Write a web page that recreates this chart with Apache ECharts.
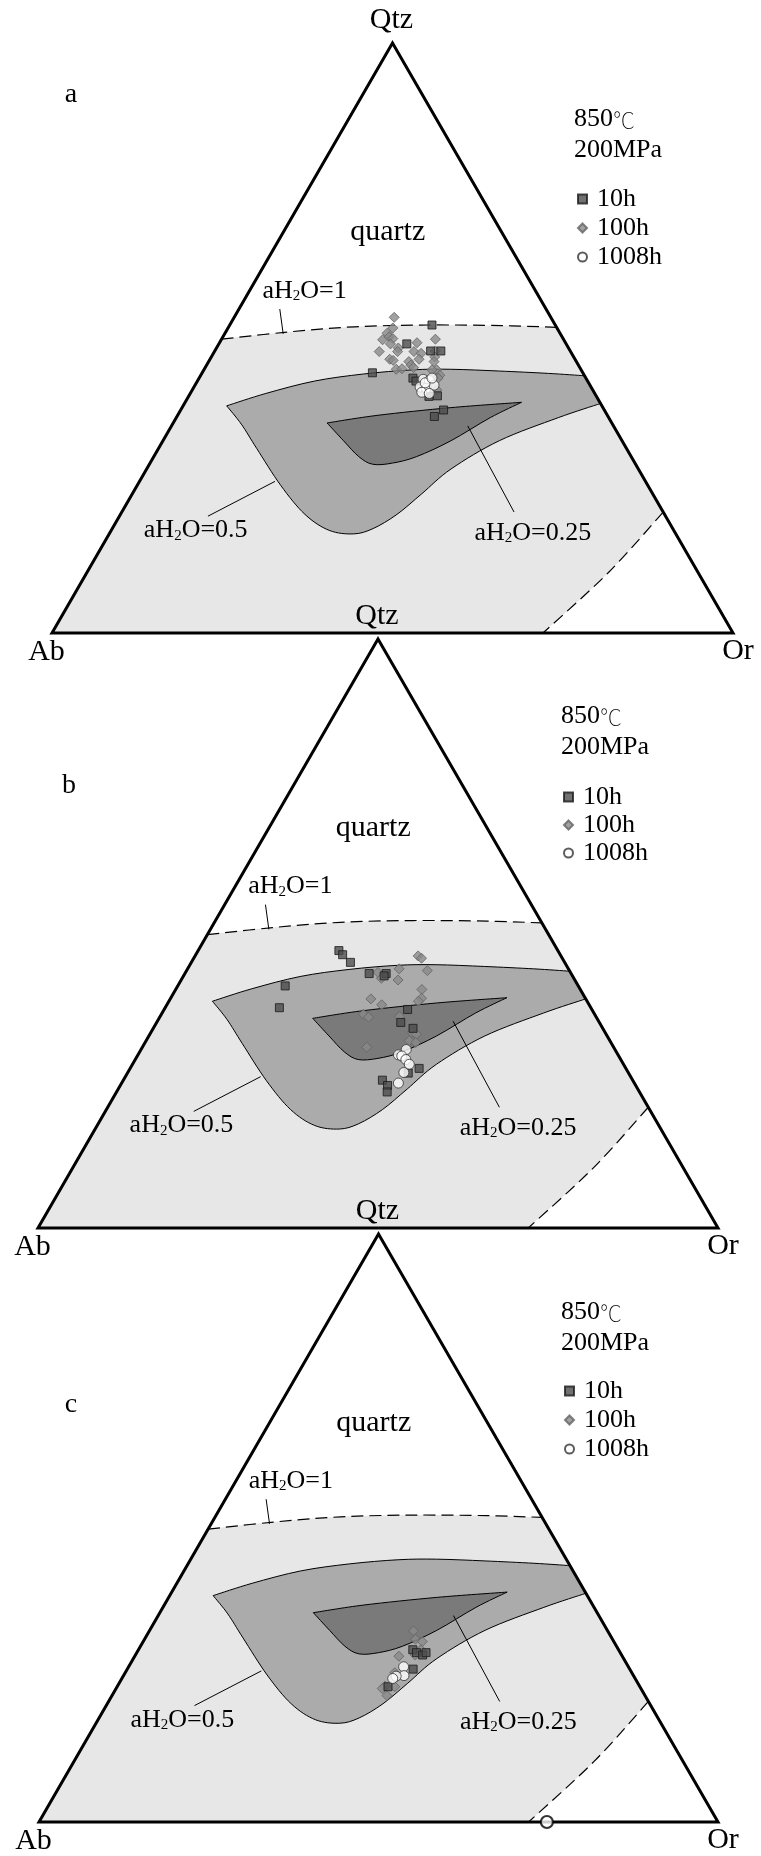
<!DOCTYPE html>
<html>
<head>
<meta charset="utf-8">
<script src="https://cdn.jsdelivr.net/npm/echarts@6/dist/echarts.min.js"></script>
<style>
  html, body { margin: 0; padding: 0; background: #fff; }
  #chart { width: 761px; height: 1856px; }
</style>
</head>
<body>
<div id="chart"></div>
<script>
// All compositions are ternary [Qz, Or] in wt%; Ab = 100 - Qz - Or.
const vertexNames = ['Qtz', 'Ab', 'Or'];
const panelLetters = ['a', 'b', 'c'];
const temperature = '850';
const pressure = '200MPa';
const durations = ['10h', '100h', '1008h'];

// Phase boundaries of the Qz-Ab-Or system
const cotecticH2O1 = [[49.8, 0], [51.0, 9.0], [51.9, 18.5], [52.2, 29.0], [52.1, 40.0], [51.8, 48.2]];
const feldsparBoundary = [[20.5, 79.5], [10.3, 76.6], [0, 72.1]];
const field05Upper = [[38.5, 6.4], [40.6, 11.1], [42.7, 17.2], [43.9, 23.8], [44.6, 30.6], [44.7, 36.2], [44.4, 43.5], [44.0, 50.9], [43.6, 56.4]];
const field05Lower = [[38.9, 61.1], [36.5, 56.1], [32.6, 49.4], [27.8, 44.7], [23.6, 42.5], [20.1, 40.6], [17.7, 38.3], [16.8, 35.9], [17.4, 32.0], [20.1, 27.1], [25.0, 21.1], [31.3, 14.4], [35.4, 10.1], [38.5, 6.4]];
const field025Upper = [[35.6, 22.6], [36.9, 29.4], [38.2, 39.5], [39.1, 49.4]];
const field025Lower = [[39.1, 49.4], [36.5, 46.1], [32.6, 42.3], [29.9, 38.6], [28.8, 35.6], [28.6, 32.8], [29.9, 30.1], [32.6, 26.5], [35.6, 22.6]];

// Glass compositions, panel a
const panelA10h = [[52.2, 29.7], [49.0, 27.6], [47.8, 31.7], [47.8, 33.2], [44.1, 25.0], [43.2, 31.4], [42.7, 32.1], [40.1, 35.3], [40.2, 36.5], [37.8, 38.6], [36.7, 37.8]];
const panelA100h = [[53.5, 23.5], [51.7, 24.2], [50.8, 23.8], [49.7, 23.7], [50.2, 24.4], [49.9, 25.1], [49.0, 25.2], [48.3, 26.7], [47.7, 24.2], [47.7, 26.9], [46.4, 26.4], [46.2, 27.0], [44.7, 28.2], [44.8, 29.0], [46.0, 29.4], [45.4, 30.0], [49.2, 29.0], [47.7, 29.3], [47.4, 30.5], [46.4, 30.7], [49.8, 31.4], [47.8, 32.4], [46.8, 32.8], [46.0, 33.1], [44.6, 34.2], [43.7, 35.1], [43.2, 35.1], [44.6, 33.5], [41.2, 35.9], [45.0, 30.6]];
const panelA1008h = [[43.0, 33.0], [42.8, 34.0], [41.7, 33.2], [41.5, 34.2], [42.0, 35.1], [40.8, 33.9], [40.6, 35.1], [42.4, 33.6], [43.2, 34.2]];

// Glass compositions, panel b
const panelB10h = [[47.1, 20.7], [46.4, 21.6], [45.1, 23.4], [43.2, 27.1], [43.2, 29.6], [42.8, 29.5], [37.1, 35.8], [34.9, 35.9], [33.9, 38.2], [27.1, 42.5], [26.3, 41.3], [25.1, 38.1], [24.2, 39.3], [23.1, 39.8], [41.1, 15.8], [37.4, 16.8]];
const panelB100h = [[46.2, 32.8], [45.8, 33.5], [43.4, 28.3], [42.4, 29.3], [44.0, 31.1], [42.1, 31.9], [43.7, 35.4], [40.5, 36.2], [39.0, 36.9], [38.5, 36.7], [38.9, 29.5], [37.9, 31.6], [36.3, 29.7], [35.8, 30.7], [35.9, 35.2], [33.2, 38.4], [32.9, 39.2], [31.8, 38.7], [31.5, 39.8], [30.7, 33.0]];
const panelB1008h = [[30.3, 39.0], [29.4, 38.3], [29.2, 38.9], [28.6, 39.8], [27.8, 40.7], [26.4, 40.6], [24.6, 40.7]];

// Glass compositions, panel c
const panelC10h = [[29.3, 40.4], [28.8, 41.2], [28.4, 42.3], [28.8, 42.6], [26.0, 42.1], [23.0, 39.9]];
const panelC100h = [[32.5, 38.9], [31.1, 39.9], [30.7, 41.1], [28.4, 41.2], [28.2, 38.9], [25.4, 39.7], [23.1, 39.4], [23.0, 40.9], [22.7, 39.2], [21.5, 40.5], [29.3, 41.6]];
const panelC1008h = [[26.4, 40.5], [24.9, 41.3], [24.8, 40.2], [24.4, 39.9]];
const panelCBasePoint = [[0, 74.8]];

// ---------------------------------------------------------------------------
const SIN60 = Math.sqrt(3) / 2;
const SERIF = '"Liberation Serif", "Times New Roman", serif';
// ternary [Qz, Or] -> plane coordinates of an equilateral triangle of side 100
const toPlane = p => [p[1] + p[0] / 2, p[0] * SIN60];

// Annotation anchors (ternary) for the field names and their leader lines
const notes = {
  quartz: [67.4, 15.6],
  h2o1: { text: '1', at: [58.0, 8.1], leader: [[54.9, 6.0], [50.7, 8.6]] },
  h2o05: { text: '0.5', at: [17.4, 12.4], leader: [[25.7, 19.9], [19.8, 13.0]] },
  h2o025: { text: '0.25', at: [17.0, 62.1], leader: [[35.1, 43.5], [20.5, 57.6]] }
};

const panels = [
  { grid: { left: 52, top: 43, width: 681, height: 590 }, letter: [71, 95], cond: [574, 104], legend: [577, 186], gap: 3,
    sets: [panelA100h, panelA10h, panelA1008h] },
  { grid: { left: 38, top: 639, width: 680, height: 589 }, letter: [69, 786], cond: [561, 701], legend: [563, 784], gap: 2,
    sets: [panelB100h, panelB10h, panelB1008h] },
  { grid: { left: 39, top: 1234, width: 679, height: 588 }, letter: [71, 1405], cond: [561, 1297], legend: [564, 1378], gap: 3,
    sets: [panelC100h, panelC10h, panelC1008h] }
];

const f2 = p => p[0].toFixed(2) + ' ' + p[1].toFixed(2);
// Catmull-Rom spline through pixel points, as cubic segments starting at pts[0]
function spline(pts) {
  let d = '';
  for (let i = 0; i < pts.length - 1; i++) {
    const p0 = pts[i - 1] || pts[i], p1 = pts[i], p2 = pts[i + 1], p3 = pts[i + 2] || pts[i + 1];
    const c1 = [p1[0] + (p2[0] - p0[0]) / 6, p1[1] + (p2[1] - p0[1]) / 6];
    const c2 = [p2[0] - (p3[0] - p1[0]) / 6, p2[1] - (p3[1] - p1[1]) / 6];
    d += 'C' + f2(c1) + ' ' + f2(c2) + ' ' + f2(p2);
  }
  return d;
}

function labelText(value) {
  return '{t|aH}{s|2}{t|O=' + value + '}';
}
const labelRich = {
  t: { fontSize: 26, fontFamily: SERIF, fill: '#000' },
  s: { fontSize: 15, fontFamily: SERIF, fill: '#000', verticalAlign: 'bottom' }
};

function renderDiagram(params, api) {
  const P = p => api.coord(toPlane(p));
  const pts = arr => arr.map(P);
  const qz = P([100, 0]), ab = P([0, 0]), or = P([0, 100]);
  const cot = pts(cotecticH2O1);
  const fsp = pts(feldsparBoundary);
  const fspRev = fsp.slice().reverse();
  const cotRev = cot.slice().reverse();
  const u05 = pts(field05Upper), l05 = pts(field05Lower);
  const u025 = pts(field025Upper), l025 = pts(field025Lower);
  const children = [];

  // light field below the H2O-saturated cotectic
  children.push({
    type: 'path',
    shape: { pathData: 'M' + f2(cot[0]) + 'L' + f2(ab) + 'L' + f2(fspRev[0]) + spline(fspRev) +
      'L' + f2(cot[cot.length - 1]) + spline(cotRev) + 'Z' },
    style: { fill: '#e7e7e7', stroke: 'none' }
  });
  // aH2O = 0.5 field
  children.push({
    type: 'path',
    shape: { pathData: 'M' + f2(u05[0]) + spline(u05) + 'L' + f2(l05[0]) + spline(l05) + 'Z' },
    style: { fill: '#ababab', stroke: '#000', lineWidth: 1 }
  });
  // aH2O = 0.25 field
  children.push({
    type: 'path',
    shape: { pathData: 'M' + f2(u025[0]) + spline(u025) + 'L' + f2(l025[0]) + spline(l025) + 'Z' },
    style: { fill: '#7a7a7a', stroke: '#000', lineWidth: 1 }
  });
  // dashed boundaries
  [cot, fsp].forEach(line => children.push({
    type: 'path',
    shape: { pathData: 'M' + f2(line[0]) + spline(line) },
    style: { fill: 'none', stroke: '#000', lineWidth: 1.2, lineDash: [12, 6] }
  }));
  // leader lines and field labels
  [notes.h2o1, notes.h2o05, notes.h2o025].forEach(n => {
    const a = P(n.leader[0]), b = P(n.leader[1]);
    children.push({
      type: 'path',
      shape: { pathData: 'M' + f2(a) + 'L' + f2(b) },
      style: { fill: 'none', stroke: '#000', lineWidth: 1 }
    });
    const c = P(n.at);
    children.push({
      type: 'text', x: c[0], y: c[1],
      style: { text: labelText(n.text), rich: labelRich, fontSize: 26, fontFamily: SERIF,
        align: 'center', verticalAlign: 'middle', fill: '#000' }
    });
  });
  const q = P(notes.quartz);
  children.push({
    type: 'text', x: q[0], y: q[1] - 3,
    style: { text: 'quartz', fontSize: 30, fontFamily: SERIF, align: 'center', verticalAlign: 'middle', fill: '#000' }
  });
  // triangle frame
  children.push({
    type: 'path',
    shape: { pathData: 'M' + f2(ab) + 'L' + f2(or) + 'L' + f2(qz) + 'Z' },
    style: { fill: 'none', stroke: '#000', lineWidth: 3, lineJoin: 'miter' }
  });
  // apex names
  const vtx = [[qz, -1, -23], [ab, -5.5, 19], [or, 5, 18]];
  vtx.forEach((v, i) => children.push({
    type: 'text', x: v[0][0] + v[1], y: v[0][1] + v[2],
    style: { text: vertexNames[i], fontSize: 30, fontFamily: SERIF, align: 'center', verticalAlign: 'middle', fill: '#000' }
  }));
  return { type: 'group', children };
}

const markerStyles = {
  '10h': { symbol: 'rect', symbolSize: 8, itemStyle: { color: '#4d4d4d', borderColor: '#1a1a1a', borderWidth: 1 } },
  '100h': { symbol: 'diamond', symbolSize: 10, itemStyle: { color: '#8a8a8a', borderColor: '#636363', borderWidth: 1 } },
  '1008h': { symbol: 'circle', symbolSize: 10, itemStyle: { color: '#ffffff', borderColor: '#333333', borderWidth: 1 } }
};
const drawOrder = ['100h', '10h', '1008h'];

const option = {
  animation: false,
  backgroundColor: '#ffffff',
  grid: panels.map(p => Object.assign({ containLabel: false }, p.grid)),
  xAxis: panels.map((p, i) => ({ gridIndex: i, type: 'value', min: 0, max: 100, show: false })),
  yAxis: panels.map((p, i) => ({ gridIndex: i, type: 'value', min: 0, max: 100 * SIN60, show: false })),
  title: panels.map(p => ({
    text: temperature + '{deg|℃}\n' + pressure, left: p.cond[0], top: p.cond[1], padding: 0,
    textStyle: {
      fontFamily: SERIF, fontSize: 26, fontWeight: 'normal', lineHeight: 31, color: '#000',
      rich: { deg: { fontFamily: '"Noto Sans CJK SC", sans-serif', fontSize: 22, fontWeight: 'lighter', color: '#000', lineHeight: 31 } }
    }
  })),
  legend: panels.map(p => ({
    data: durations, orient: 'vertical', left: p.legend[0], top: p.legend[1], padding: 0,
    itemWidth: 9, itemHeight: 9, itemGap: p.gap, selectedMode: false,
    formatter: name => '{sp| }' + name,
    textStyle: { fontFamily: SERIF, fontSize: 26, color: '#000', rich: { sp: { width: 5 } } }
  })),
  graphic: panels.map((p, i) => ({
    type: 'text', x: p.letter[0], y: p.letter[1],
    style: { text: panelLetters[i], fontSize: 28, fontFamily: SERIF, fill: '#000', align: 'center', verticalAlign: 'middle' }
  })),
  series: []
};

panels.forEach((p, i) => {
  option.series.push({
    type: 'custom', name: 'diagram' + i, xAxisIndex: i, yAxisIndex: i, z: 2, silent: true,
    data: [[0, 0]], renderItem: renderDiagram
  });
  drawOrder.forEach((name, k) => {
    const m = markerStyles[name];
    option.series.push({
      type: 'scatter', name, xAxisIndex: i, yAxisIndex: i, z: 5, silent: true,
      symbol: m.symbol, symbolSize: m.symbolSize, itemStyle: m.itemStyle,
      emphasis: { disabled: true },
      data: p.sets[k].map(toPlane)
    });
  });
});

// feldspar end-member glass on the Ab-Or join
option.series.push({
  type: 'scatter', name: 'Ab-Or join', xAxisIndex: 2, yAxisIndex: 2, z: 6, silent: true,
  symbol: 'circle', symbolSize: 12,
  itemStyle: { color: '#ffffff', borderColor: '#000', borderWidth: 2.2 },
  emphasis: { disabled: true },
  data: panelCBasePoint.map(toPlane)
});

const chart = echarts.init(document.getElementById('chart'), null, { renderer: 'canvas' });
chart.setOption(option);
</script>
</body>
</html>
